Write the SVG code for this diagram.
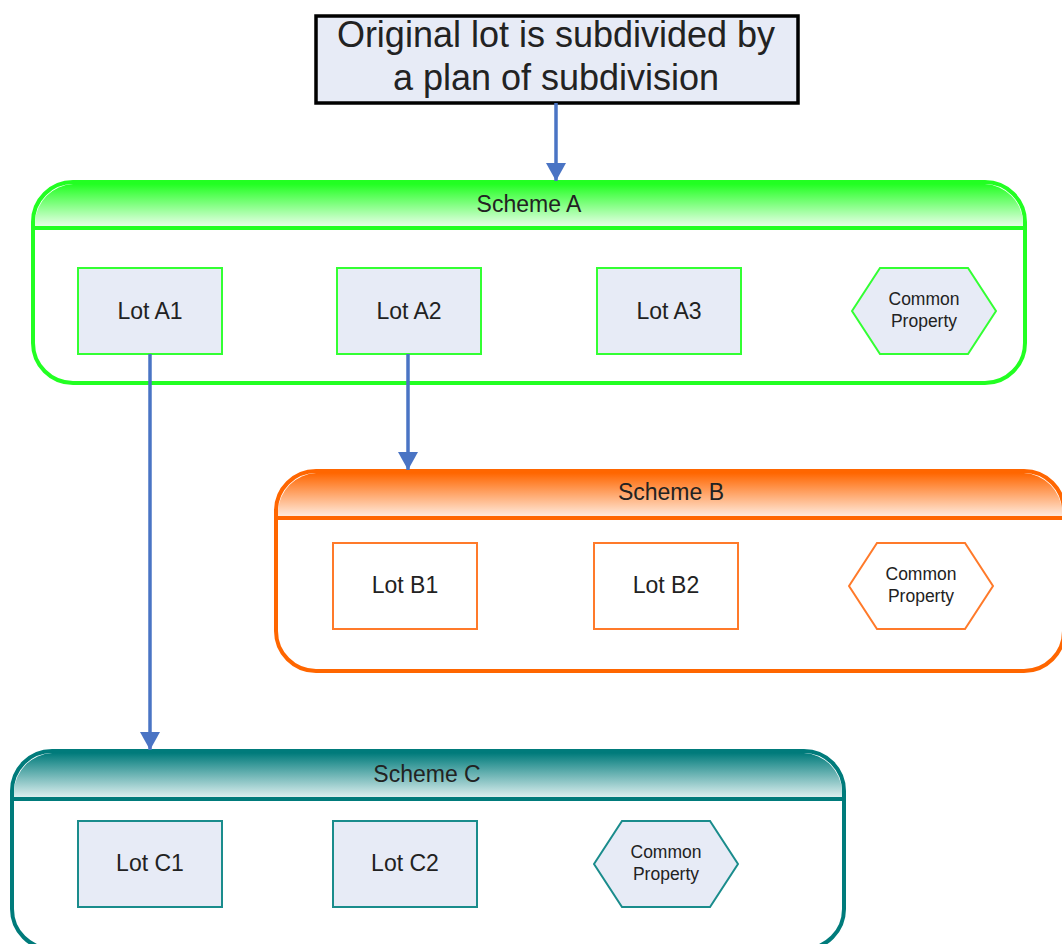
<svg xmlns="http://www.w3.org/2000/svg" width="1062" height="944" viewBox="0 0 1062 944">
<defs>
<linearGradient id="gA" x1="0" y1="0" x2="0" y2="1"><stop offset="0" stop-color="#22ff22"/><stop offset="1" stop-color="#f0fff0"/></linearGradient>
<linearGradient id="gB" x1="0" y1="0" x2="0" y2="1"><stop offset="0" stop-color="#ff6600"/><stop offset="1" stop-color="#fff0e6"/></linearGradient>
<linearGradient id="gC" x1="0" y1="0" x2="0" y2="1"><stop offset="0" stop-color="#007b7b"/><stop offset="1" stop-color="#e6f4f4"/></linearGradient>
<marker id="ah" markerUnits="userSpaceOnUse" markerWidth="20" markerHeight="20" refX="18" refY="10" orient="auto"><path d="M0,0 L18,10 L0,20 Z" fill="#4a74c4"/></marker>
</defs>
<style>
text{font-family:"Liberation Sans",Arial,sans-serif;fill:#222;text-anchor:middle}
.lot{font-size:23px}
.cp{font-size:17.5px}
.sch{font-size:23px}
.lotA{fill:#e7ebf6;stroke:#33ff33;stroke-width:2}
.lotB{fill:#ffffff;stroke:#ff7a2a;stroke-width:2}
.lotC{fill:#e7ebf6;stroke:#1a8c8c;stroke-width:2}
.conn{stroke:#4a74c4;stroke-width:3.5;fill:none}
</style>
<g id="title">
<rect x="316" y="16" width="482" height="87" fill="#e7ebf6" stroke="#000" stroke-width="3.5"/>
<text x="556" y="47" style="font-size:36px">Original lot is subdivided by</text>
<text x="556" y="90" style="font-size:36px">a plan of subdivision</text>
</g>
<g id="schemeA">
<rect x="33" y="182" width="992" height="201" rx="40" fill="#fff" stroke="#22ff22" stroke-width="4"/>
<path d="M35,228 L35,222 A40,40 0 0 1 73,184 L985,184 A40,40 0 0 1 1023,222 L1023,228 Z" fill="url(#gA)"/>
<line x1="33" y1="228" x2="1025" y2="228" stroke="#22ff22" stroke-width="4"/>
<text class="sch" x="529" y="212">Scheme A</text>
</g>
<g id="schemeB">
<rect x="276" y="471" width="788" height="200" rx="40" fill="#fff" stroke="#ff6600" stroke-width="4"/>
<path d="M278,518 L278,511 A40,40 0 0 1 316,473 L1024,473 A40,40 0 0 1 1062,511 L1062,518 Z" fill="url(#gB)"/>
<line x1="276" y1="518" x2="1064" y2="518" stroke="#ff6600" stroke-width="4"/>
<text class="sch" x="671" y="500">Scheme B</text>
</g>
<g id="schemeC">
<rect x="12" y="751" width="832" height="198" rx="40" fill="#fff" stroke="#007b7b" stroke-width="4"/>
<path d="M14,799 L14,791 A40,40 0 0 1 52,753 L804,753 A40,40 0 0 1 842,791 L842,799 Z" fill="url(#gC)"/>
<line x1="12" y1="799" x2="844" y2="799" stroke="#007b7b" stroke-width="4"/>
<text class="sch" x="427" y="782">Scheme C</text>
</g>
<g id="lotA1"><rect class="lotA" x="78" y="268" width="144" height="86"/><text class="lot" x="150" y="319">Lot A1</text></g>
<g id="lotA2"><rect class="lotA" x="337" y="268" width="144" height="86"/><text class="lot" x="409" y="319">Lot A2</text></g>
<g id="lotA3"><rect class="lotA" x="597" y="268" width="144" height="86"/><text class="lot" x="669" y="319">Lot A3</text></g>
<g id="cpA"><polygon class="lotA" points="852,311 880,268 968,268 996,311 968,354 880,354"/><text class="cp" x="924" y="305">Common</text><text class="cp" x="924" y="327">Property</text></g>
<g id="lotB1"><rect class="lotB" x="333" y="543" width="144" height="86"/><text class="lot" x="405" y="593">Lot B1</text></g>
<g id="lotB2"><rect class="lotB" x="594" y="543" width="144" height="86"/><text class="lot" x="666" y="593">Lot B2</text></g>
<g id="cpB"><polygon class="lotB" points="849,586 877,543 965,543 993,586 965,629 877,629"/><text class="cp" x="921" y="580">Common</text><text class="cp" x="921" y="602">Property</text></g>
<g id="lotC1"><rect class="lotC" x="78" y="821" width="144" height="86"/><text class="lot" x="150" y="871">Lot C1</text></g>
<g id="lotC2"><rect class="lotC" x="333" y="821" width="144" height="86"/><text class="lot" x="405" y="871">Lot C2</text></g>
<g id="cpC"><polygon class="lotC" points="594,864 622,821 710,821 738,864 710,907 622,907"/><text class="cp" x="666" y="858">Common</text><text class="cp" x="666" y="880">Property</text></g>
<g id="connectors">
<line class="conn" x1="556" y1="103" x2="556" y2="181" marker-end="url(#ah)"/>
<line class="conn" x1="408" y1="354" x2="408" y2="470" marker-end="url(#ah)"/>
<line class="conn" x1="150" y1="354" x2="150" y2="750" marker-end="url(#ah)"/>
</g>
</svg>
